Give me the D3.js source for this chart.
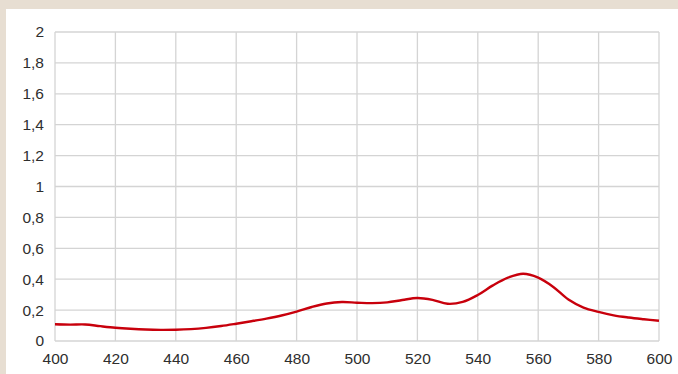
<!DOCTYPE html>
<html>
<head>
<meta charset="utf-8">
<script src="https://cdn.jsdelivr.net/npm/d3@7"></script>
<style>
  html, body { margin: 0; padding: 0; background: #e7ded2; }
  svg { display: block; }
</style>
</head>
<body>
<svg id="chart" width="678" height="374"></svg>
<script>
// Wavelength (nm) and measured absorbance
const wavelengths = [400,405,410,415,420,425,430,435,440,445,450,455,460,465,470,475,480,485,490,495,500,505,510,515,520,525,530,535,540,545,550,555,560,565,570,575,580,585,590,595,600];
const absorbance  = [0.108,0.106,0.107,0.096,0.086,0.079,0.074,0.072,0.073,0.077,0.085,0.097,0.112,0.128,0.145,0.165,0.19,0.22,0.243,0.252,0.248,0.245,0.25,0.265,0.278,0.266,0.241,0.253,0.298,0.36,0.41,0.435,0.41,0.35,0.268,0.216,0.188,0.166,0.152,0.141,0.131];
const xTicks = [400,420,440,460,480,500,520,540,560,580,600];
const yTicks = [0,0.2,0.4,0.6,0.8,1,1.2,1.4,1.6,1.8,2];

const svg = d3.select("#chart");
const W = 678, H = 374;
const m = { left: 55, top: 32, right: 659, bottom: 341 };

// white panel
svg.append("rect").attr("x", 6).attr("y", 9).attr("width", W - 6).attr("height", H - 9).attr("fill", "#ffffff");

const x = d3.scaleLinear().domain([400, 600]).range([m.left, m.right]);
const y = d3.scaleLinear().domain([0, 2]).range([m.bottom, m.top]);

const fmt = d => String(+d.toFixed(1)).replace(".", ",");

// gridlines
const grid = svg.append("g").attr("stroke", "#d4d4d4").attr("stroke-width", 1.3);
grid.selectAll("line.v").data(xTicks).join("line")
  .attr("x1", d => x(d)).attr("x2", d => x(d))
  .attr("y1", m.top).attr("y2", m.bottom);
grid.selectAll("line.h").data(yTicks).join("line")
  .attr("x1", m.left).attr("x2", m.right)
  .attr("y1", d => y(d)).attr("y2", d => y(d));

// axes (labels only)
const yAxis = svg.append("g").attr("transform", `translate(${m.left - 11},0)`)
  .call(d3.axisLeft(y).tickValues(yTicks).tickFormat(fmt).tickSize(0).tickPadding(0));
const xAxis = svg.append("g").attr("transform", `translate(0,${m.bottom + 7})`)
  .call(d3.axisBottom(x).tickValues(xTicks).tickFormat(d3.format("d")).tickSize(0).tickPadding(5));
[xAxis, yAxis].forEach(a => {
  a.select(".domain").remove();
  a.selectAll("text").attr("font-family", "Liberation Sans, Arial, sans-serif")
    .attr("font-size", 15.5).attr("fill", "#2e2e2e");
});

// spectrum line
const line = d3.line()
  .x((d, i) => x(wavelengths[i]))
  .y(d => y(d))
  .curve(d3.curveCatmullRom.alpha(0.5));

svg.append("path")
  .datum(absorbance)
  .attr("d", line)
  .attr("fill", "none")
  .attr("stroke", "#c8000c")
  .attr("stroke-width", 2.4)
  .attr("stroke-linejoin", "round");
</script>
</body>
</html>
